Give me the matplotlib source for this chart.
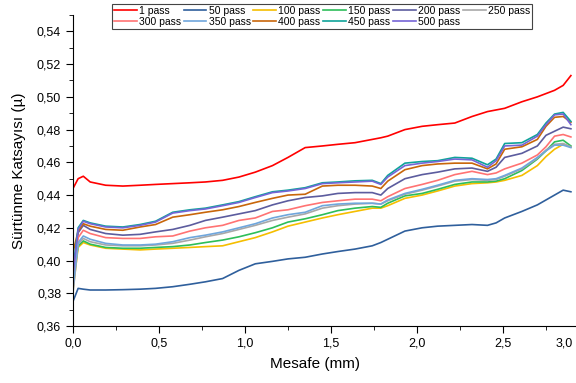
import matplotlib
matplotlib.use("Agg")
import matplotlib.pyplot as plt
from matplotlib.ticker import MultipleLocator, FuncFormatter
from matplotlib.transforms import ScaledTranslation

plt.rcParams['font.family'] = ['Liberation Sans', 'DejaVu Sans']

# sliding distance (mm), shared by all runs
mesafe = [0, 0.03, 0.06, 0.1, 0.19, 0.29, 0.39, 0.48, 0.58, 0.68, 0.77, 0.87, 0.965,
          1.06, 1.16, 1.25, 1.35, 1.45, 1.54, 1.64, 1.74, 1.79, 1.83, 1.93, 2.03, 2.12,
          2.22, 2.32, 2.41, 2.46, 2.51, 2.61, 2.70, 2.75, 2.80, 2.85, 2.895]

p1 = [0.444, 0.450, 0.4515, 0.448, 0.446, 0.4455, 0.446, 0.4465, 0.447, 0.4475, 0.448,
      0.449, 0.451, 0.454, 0.458, 0.463, 0.469, 0.470, 0.471, 0.472, 0.474, 0.475, 0.476,
      0.480, 0.482, 0.483, 0.484, 0.488, 0.491, 0.492, 0.493, 0.497, 0.500, 0.502, 0.504,
      0.507, 0.513]
p50 = [0.375, 0.383, 0.3825, 0.382, 0.382, 0.3822, 0.3825, 0.383, 0.384, 0.3855, 0.387,
       0.389, 0.394, 0.398, 0.3995, 0.401, 0.402, 0.404, 0.4055, 0.407, 0.409, 0.411, 0.413,
       0.418, 0.420, 0.421, 0.4215, 0.422, 0.4215, 0.423, 0.426, 0.430, 0.434, 0.437, 0.440,
       0.443, 0.442]
p100 = [0.382, 0.408, 0.411, 0.4095, 0.4075, 0.407, 0.4065, 0.407, 0.4075, 0.408, 0.4085,
        0.409, 0.4115, 0.414, 0.4175, 0.421, 0.4235, 0.426, 0.428, 0.430, 0.432, 0.432,
        0.4335, 0.438, 0.440, 0.4425, 0.4455, 0.447, 0.4475, 0.448, 0.449, 0.452, 0.458,
        0.4635, 0.468, 0.471, 0.4695]
p150 = [0.388, 0.409, 0.412, 0.410, 0.408, 0.4075, 0.4075, 0.408, 0.4085, 0.4095, 0.411,
        0.4125, 0.4145, 0.417, 0.420, 0.4235, 0.4255, 0.428, 0.4305, 0.432, 0.433, 0.4325,
        0.435, 0.4395, 0.441, 0.4435, 0.4465, 0.448, 0.448, 0.4485, 0.450, 0.455, 0.462,
        0.467, 0.4725, 0.4735, 0.470]
p200 = [0.390, 0.417, 0.4215, 0.419, 0.4165, 0.4155, 0.416, 0.4175, 0.419, 0.4215, 0.4245,
        0.4265, 0.4285, 0.4305, 0.434, 0.4365, 0.4385, 0.4395, 0.441, 0.4415, 0.4415, 0.440,
        0.444, 0.450, 0.4525, 0.454, 0.456, 0.4565, 0.4545, 0.457, 0.463, 0.4655, 0.470,
        0.4765, 0.479, 0.4815, 0.4805]
p250 = [0.380, 0.410, 0.4135, 0.4115, 0.4095, 0.409, 0.409, 0.4095, 0.4105, 0.4125, 0.4145,
        0.4165, 0.419, 0.4215, 0.4245, 0.4265, 0.4285, 0.432, 0.4335, 0.4345, 0.435, 0.4345,
        0.4365, 0.4405, 0.443, 0.4455, 0.4485, 0.4495, 0.449, 0.4495, 0.4515, 0.456, 0.4625,
        0.4675, 0.471, 0.4715, 0.4695]
p300 = [0.385, 0.414, 0.4185, 0.4165, 0.414, 0.4135, 0.4135, 0.4145, 0.415, 0.418, 0.420,
        0.4215, 0.4245, 0.426, 0.430, 0.431, 0.4335, 0.4355, 0.4365, 0.4375, 0.4375, 0.4365,
        0.439, 0.444, 0.4465, 0.449, 0.4525, 0.4545, 0.4525, 0.4535, 0.456, 0.4595, 0.4645,
        0.4695, 0.476, 0.477, 0.4755]
p350 = [0.383, 0.411, 0.415, 0.413, 0.4105, 0.4095, 0.4095, 0.410, 0.4115, 0.414, 0.4155,
        0.4175, 0.420, 0.4225, 0.426, 0.428, 0.4295, 0.4335, 0.4345, 0.435, 0.435, 0.4345,
        0.437, 0.441, 0.4435, 0.446, 0.449, 0.450, 0.4495, 0.450, 0.452, 0.4565, 0.463,
        0.467, 0.4705, 0.4705, 0.469]
p400 = [0.405, 0.418, 0.4225, 0.421, 0.419, 0.4185, 0.4205, 0.422, 0.4265, 0.428, 0.4295,
        0.431, 0.433, 0.4355, 0.438, 0.440, 0.4405, 0.4455, 0.446, 0.446, 0.4455, 0.444,
        0.4485, 0.4555, 0.458, 0.459, 0.4595, 0.4595, 0.456, 0.459, 0.468, 0.4695, 0.474,
        0.482, 0.4875, 0.488, 0.4845]
p450 = [0.395, 0.420, 0.4245, 0.423, 0.421, 0.4205, 0.422, 0.424, 0.4295, 0.431, 0.432,
        0.434, 0.436, 0.439, 0.442, 0.443, 0.4445, 0.4475, 0.448, 0.4487, 0.449, 0.447,
        0.452, 0.4595, 0.4605, 0.461, 0.463, 0.4625, 0.4585, 0.462, 0.4715, 0.472, 0.477,
        0.484, 0.4895, 0.4905, 0.485]
p500 = [0.392, 0.419, 0.424, 0.4225, 0.4205, 0.420, 0.4215, 0.4235, 0.429, 0.4305, 0.4315,
        0.4335, 0.4355, 0.4385, 0.4415, 0.4425, 0.444, 0.447, 0.4475, 0.448, 0.4485, 0.4465,
        0.451, 0.458, 0.4595, 0.4605, 0.462, 0.4615, 0.457, 0.461, 0.470, 0.4705, 0.476,
        0.483, 0.489, 0.4895, 0.483]

labels = ['1 pass', '50 pass', '100 pass', '150 pass', '200 pass', '250 pass',
          '300 pass', '350 pass', '400 pass', '450 pass', '500 pass']
series = [p1, p50, p100, p150, p200, p250, p300, p350, p400, p450, p500]
colors = ['#FF0000', '#2F5F9C', '#F5BE00', '#2DBE5A', '#5C5C9E', '#A8A8A8',
          '#FF7373', '#6FA6DC', '#C8660A', '#0FA39A', '#7565D6']

fig = plt.figure(figsize=(5.76, 3.83), dpi=100)
# the original page is cut on the right, so the axis runs past the image edge
ax = fig.add_axes([0.1267, 0.1488, 0.8958, 0.812])

lines = []
for y, lab, c in zip(series, labels, colors):
    ln, = ax.plot(mesafe, y, color=c, lw=1.2, label=lab)
    lines.append(ln)

ax.set_xlim(0, 3.0)
ax.set_ylim(0.36, 0.55)
ax.xaxis.set_major_locator(MultipleLocator(0.5))
ax.xaxis.set_minor_locator(MultipleLocator(0.25))
ax.yaxis.set_major_locator(MultipleLocator(0.02))
ax.yaxis.set_minor_locator(MultipleLocator(0.01))

comma1 = FuncFormatter(lambda v, p: f"{v:.1f}".replace('.', ','))
comma2 = FuncFormatter(lambda v, p: f"{v:.2f}".replace('.', ','))
ax.xaxis.set_major_formatter(comma1)
ax.yaxis.set_major_formatter(comma2)

ax.spines['top'].set_visible(False)
ax.spines['right'].set_visible(False)
ax.tick_params(axis='both', which='major', direction='out', length=5, labelsize=9)
ax.tick_params(axis='both', which='minor', direction='out', length=3)

ax.set_xlabel('Mesafe (mm)', fontsize=11)
# centre the label under the visible part of the axis
ax.xaxis.set_label_coords(0.469, -0.1)
ax.set_ylabel('Sürtünme Katsayısı (µ)', fontsize=11, labelpad=8)

# pull the last tick label back inside the picture
fig.canvas.draw()
for t in ax.get_xticklabels():
    if t.get_text() == '3,0':
        t.set_transform(t.get_transform() + ScaledTranslation(-0.25, 0, fig.dpi_scale_trans))

# legend laid out row-wise: 6 entries on top, 5 below
order = [0, 6, 1, 7, 2, 8, 3, 9, 4, 10, 5]
leg = fig.legend([lines[i] for i in order], [labels[i] for i in order],
                 loc='upper left', bbox_to_anchor=(0.194, 0.99), ncol=6,
                 fontsize=7.5, frameon=True, fancybox=False, framealpha=1,
                 edgecolor='#444444', handlelength=2.2, handletextpad=0.2,
                 columnspacing=0.25, labelspacing=0.1, borderpad=0.2,
                 borderaxespad=0)
leg.get_frame().set_linewidth(0.8)

fig.savefig('out.png', dpi=100)
